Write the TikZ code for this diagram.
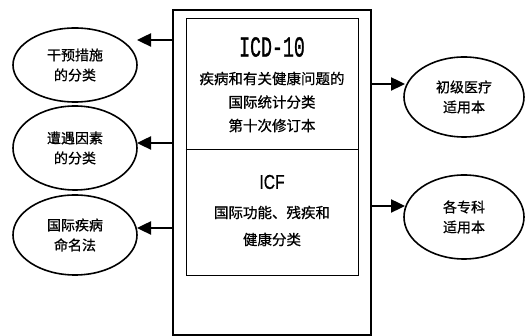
\documentclass[tikz,border=0pt]{standalone}
\usepackage{graphicx}
\usepackage{fontspec}
\newfontfamily\cjk[FakeBold=0.7]{Noto Sans CJK SC}
\newfontfamily\monof[FakeBold=1.2]{Liberation Mono}
\newfontfamily\sansf[FakeBold=0.8]{Liberation Sans}
\usetikzlibrary{arrows.meta,shapes.geometric}
\begin{document}
\begin{tikzpicture}[x=1pt,y=-1pt,
  oval/.style={ellipse, draw, line width=1.6pt, minimum width=124pt, minimum height=78pt, inner sep=0pt,
    font=\cjk\fontsize{14}{20}\selectfont, align=center},
  arr/.style={line width=2.4pt, -{Triangle[length=14pt,width=13pt]}},
  boxtext/.style={font=\cjk\fontsize{14.5}{23.5}\selectfont, align=center, inner sep=0pt}]
\useasboundingbox (0,0) rectangle (531,336);
% central boxes
\node[draw, line width=1.6pt, minimum width=198pt, minimum height=325pt, inner sep=0pt] (outer) at (272,172.5) {};
\node[draw, line width=0.9pt, minimum width=172pt, minimum height=257pt, inner sep=0pt] (inner) at (272,146.5) {};
\coordinate (div) at (272,149);
\draw[line width=0.9pt] (inner.west |- div) -- (inner.east |- div);
% texts of the box
\node[inner sep=0pt] (icd) at (272,47) {\monof\fontsize{29}{29}\selectfont\scalebox{0.63}[1]{ICD-10}};
\node[boxtext] (icdtxt) at (272,102) {疾病和有关健康问题的\\国际统计分类\\第十次修订本};
\node[inner sep=0pt] (icf) at (272,182) {\sansf\fontsize{20}{20}\selectfont\scalebox{0.78}[1]{ICF}};
\node[boxtext, font=\cjk\fontsize{14.5}{27}\selectfont] (icftxt) at (272,226) {国际功能、残疾和\\健康分类};
% left ovals
\node[oval, minimum height=74pt] (l1) at (75,65) {干预措施\\的分类};
\node[oval, minimum height=84pt] (l2) at (75,148) {遭遇因素\\的分类};
\node[oval, minimum height=80pt] (l3) at (75,235) {国际疾病\\命名法};
% right ovals
\node[oval, minimum width=120pt, minimum height=80pt] (r1) at (464,97) {初级医疗\\适用本};
\node[oval, minimum width=120pt, minimum height=84pt] (r2) at (464,217) {各专科\\适用本};
% arrows
\coordinate (t1) at (137,40);
\coordinate (t2) at (137,143);
\coordinate (t3) at (137,228);
\coordinate (t4) at (405,84);
\coordinate (t5) at (405,206);
\draw[arr] (outer.west |- t1) -- (t1);
\draw[arr] (outer.west |- t2) -- (t2);
\draw[arr] (outer.west |- t3) -- (t3);
\draw[arr] (outer.east |- t4) -- (t4);
\draw[arr] (outer.east |- t5) -- (t5);
\end{tikzpicture}
\end{document}
